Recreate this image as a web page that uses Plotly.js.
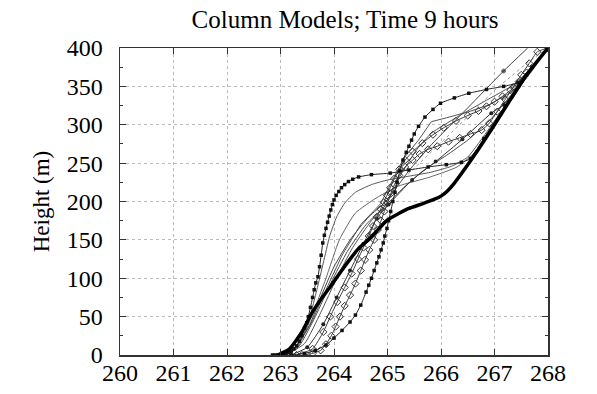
<!DOCTYPE html>
<html>
<head>
<meta charset="utf-8">
<script src="https://cdn.plot.ly/plotly-3.0.1.min.js"></script>
<style>html,body{margin:0;padding:0;background:#fff;}#chart{width:597px;height:394px;}</style>
</head>
<body>
<div id="chart"></div>
<script>
// Temperature (K) vs height (m) profiles, column models at 9 hours
const thickX = [262.95,263.17,263.4,263.58,263.75,263.93,264.1,264.29,264.45,264.64,264.82,265.0,265.2,265.4,265.65,265.88,266.0,266.11,266.25,266.4,266.7,267.0,267.3,267.6,268.0];
const thickY = [0,8,30,54,72,89,106,124,138,150,163,176,184,191,197,203,207,213,224,238,268,300,333,365,400];

const leftDotX = [262.85,262.9,262.95,263.0,263.05,263.1,263.15,263.2,263.25,263.3,263.35,263.4,263.45,263.49,263.52,263.56,263.6,263.63,263.66,263.7,263.73,263.76,263.79,263.82,263.85,263.88,263.91,263.94,263.97,264.0,264.04,264.09,264.14,264.2,264.27,264.35,264.46,264.7,265.05,265.4,265.76,266.1,266.38,266.55,266.8,267.2,267.6,268.0];
const leftDotY = [0,0,0,0,1,2,3,5,8,12,18,25,35,42,50,62,75,85,94,102,115,130,146,156,165,173,181,189,196,202,208,213,218,222,226,229,232,235,237,241,245,248,251,256,282,325,365,400];

const rightDotX = [263.2,263.45,263.65,263.85,264.0,264.15,264.3,264.4,264.5,264.6,264.65,264.7,264.75,264.8,264.84,264.88,264.92,264.95,264.99,265.02,265.06,265.1,265.14,265.18,265.23,265.29,265.35,265.4,265.45,265.5,265.58,265.7,265.85,265.99,266.25,266.52,266.85,267.17,267.44,267.7,268.0];
const rightDotY = [0,2,6,13,22,32,43,52,65,82,91,100,110,120,128,137,146,155,165,175,187,200,212,225,240,254,264,272,280,288,298,310,320,328,335,341,346,350,355,375,400];

const grayAX = [262.95,263.2,263.4,263.55,263.68,263.8,263.92,264.05,264.2,264.4,264.7,265.0,265.4,265.8,266.2,266.5,266.9,267.3,267.7,268.0];
const grayAY = [0,5,22,50,85,120,155,180,198,212,222,228,233,238,246,258,295,335,370,400];

const grayEX = [263.0,263.3,263.58,263.85,264.1,264.4,264.8,265.2,265.8,266.3,266.6,267.0,267.5,268.0];
const grayEY = [0,8,50,100,150,185,205,220,232,245,262,300,352,400];

const straightX = [263.0,263.3,263.55,263.75,264.0,264.3,264.65,264.97,265.4,265.82,266.5,267.17,267.62];
const straightY = [0,12,40,75,115,150,180,200,240,274,322,370,400];

const grayBX = [263.0,263.3,263.6,263.85,264.15,264.5,264.87,265.1,265.3,265.58,265.82,266.1,266.52,266.9,267.3,267.6,268.0];
const grayBY = [0,10,45,85,130,170,197,228,256,280,304,309,317,326,342,365,400];

const grayCX = [263.05,263.35,263.65,263.95,264.25,264.6,264.97,265.3,265.7,266.1,266.5,266.9,267.3,267.6,268.0];
const grayCY = [0,12,50,95,135,170,195,218,242,260,280,305,338,365,400];

const grayDX = [263.1,263.45,263.75,264.05,264.35,264.7,264.98,265.25,265.55,265.82,266.3,266.8,267.4,267.7,268.0];
const grayDY = [0,15,55,100,140,175,197,235,268,289,310,330,354,375,400];

const diamAX = [263.4,263.6,263.75,263.85,263.95,264.03,264.11,264.2,264.3,264.4,264.5,264.58,264.66,264.75,264.82,264.88,264.94,265.0,265.06,265.13,265.22,265.33,265.47,265.6,265.76,265.93,266.14,266.35,266.55,266.76,266.9,267.05,267.2,267.35,267.5,267.65,267.8,268.0];
const diamAY = [0,2,6,14,25,37,50,64,78,93,110,124,137,150,163,175,187,198,210,222,234,245,254,262,268,272,278,283,288,293,302,317,333,349,365,380,395,400];

const diamBX = [263.3,263.6,263.8,263.93,264.06,264.2,264.33,264.45,264.55,264.65,264.73,264.8,264.87,264.93,264.99,265.05,265.13,265.22,265.33,265.47,265.65,265.85,266.05,266.28,266.5,266.7,266.85,267.0,267.15,267.3,267.45,267.6,268.0];
const diamBY = [0,8,30,50,69,88,106,125,140,155,168,180,190,199,208,218,230,242,254,265,276,287,296,305,312,318,324,330,337,345,356,368,400];

const dotLineX = [263.2,263.5,263.8,264.05,264.3,264.55,264.8,265.02,265.46,265.9,266.4,266.94,267.17,267.45,268.0];
const dotLineY = [0,10,40,75,110,145,178,196,228,252,281,315,326,350,400];

const refX = [265.3,266.2,267.0,267.6,268.0];
const refY = [230,290,345,380,400];

const traces = [];
function line(x, y, color, width, extra) {
  traces.push(Object.assign({x: x, y: y, type: 'scatter', mode: 'lines',
    line: {color: color, width: width, shape: 'spline', smoothing: 0.5}, hoverinfo: 'skip'}, extra || {}));
}
line(grayAX, grayAY, '#555', 1);
line(grayEX, grayEY, '#666', 1);
line(grayBX, grayBY, '#555', 1, {line: {color: '#555', width: 1}});
line(grayCX, grayCY, '#4a4a4a', 1);
line(grayDX, grayDY, '#555', 1);
line(refX, refY, '#999', 1, {line: {color: '#999', width: 1, dash: 'dot'}});
line(straightX, straightY, '#444', 1, {mode: 'lines+markers',
  marker: {symbol: 'circle', color: '#222', size: straightX.map((v, i) => i === 11 ? 4 : 0)}});
line(dotLineX, dotLineY, '#333', 1, {mode: 'lines+markers',
  marker: {symbol: 'circle', color: '#222', size: 4}});
line(diamAX, diamAY, '#3a3a3a', 1, {mode: 'lines+markers',
  marker: {symbol: 'diamond-open', color: '#333', size: 5.5, line: {width: 1}}});
line(diamBX, diamBY, '#3a3a3a', 1, {mode: 'lines+markers',
  marker: {symbol: 'diamond-open', color: '#333', size: 5.5, line: {width: 1}}});
line(leftDotX, leftDotY, '#222', 1, {mode: 'lines+markers',
  marker: {symbol: 'square', color: '#111', size: 3.5}});
line(rightDotX, rightDotY, '#222', 1, {mode: 'lines+markers',
  marker: {symbol: 'square', color: '#111', size: 3.5}});
line(thickX, thickY, '#000', 3.5);

const font = {family: '"Liberation Serif", "Times New Roman", serif', color: '#000'};
const layout = {
  width: 597, height: 394,
  margin: {l: 120, r: 49, t: 48, b: 39},
  paper_bgcolor: '#fff', plot_bgcolor: '#fff',
  showlegend: false,
  font: Object.assign({size: 24}, font),
  title: {text: 'Column Models; Time 9 hours', font: Object.assign({size: 25}, font),
    x: 0.578, xref: 'container', xanchor: 'center', y: 0.952, yref: 'container', yanchor: 'middle'},
  xaxis: {range: [260, 268], dtick: 1, tick0: 260, ticks: 'inside', ticklen: 6, tickcolor: '#333',
    showline: true, linecolor: '#333', linewidth: 1.5, mirror: 'allticks',
    showgrid: true, gridcolor: '#bbb', griddash: 'dot', gridwidth: 1, zeroline: false,
    tickfont: Object.assign({size: 24}, font), ticklabelstandoff: -4, fixedrange: true},
  yaxis: {range: [0, 400], dtick: 50, tick0: 0, ticks: 'inside', ticklen: 6, tickcolor: '#333',
    showline: true, linecolor: '#333', linewidth: 1.5, mirror: 'allticks',
    showgrid: true, gridcolor: '#bbb', griddash: 'dot', gridwidth: 1, zeroline: false,
    minor: {dtick: 25, ticks: 'inside', ticklen: 3, tickcolor: '#333', showgrid: false},
    tickfont: Object.assign({size: 24}, font), ticklabelstandoff: 11,
    title: {text: 'Height (m)', font: Object.assign({size: 23}, font), standoff: 10}, fixedrange: true}
};
Plotly.newPlot('chart', traces, layout, {displayModeBar: false, staticPlot: true});
</script>
</body>
</html>
